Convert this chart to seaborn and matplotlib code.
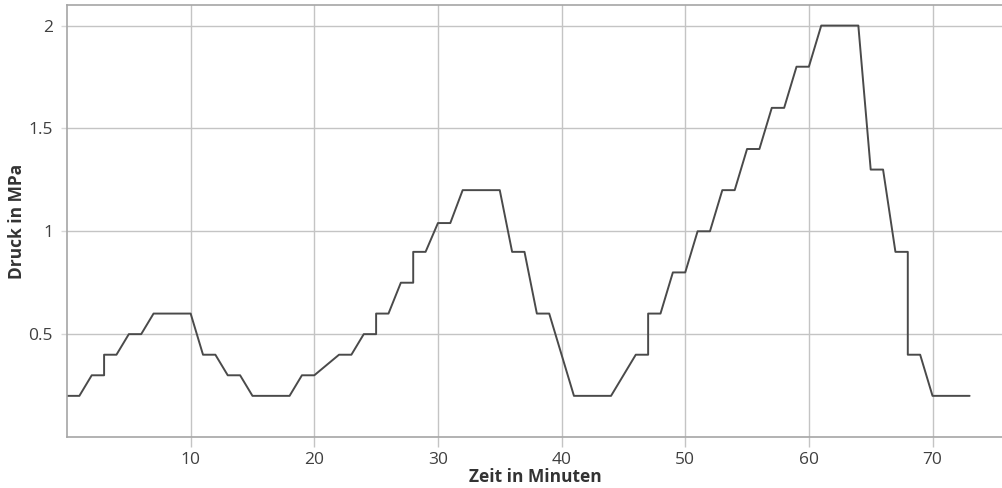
import matplotlib
matplotlib.use("Agg")
import matplotlib.pyplot as plt
import seaborn as sns
import pandas as pd

minutes = [0, 1, 2, 3, 3, 4, 5, 6, 7, 8, 9, 10, 11, 12, 13, 14, 15, 16, 17, 18,
           19, 20, 22, 23, 24, 25, 25, 26, 27, 28, 28, 29, 30, 31, 32, 33, 34, 35,
           36, 37, 38, 39, 41, 42, 43, 44, 46, 47, 47, 48, 49, 50, 51, 52, 53, 54,
           55, 56, 57, 58, 59, 60, 61, 62, 63, 64, 65, 66, 67, 68, 68, 69, 70, 71,
           72, 73]
pressure = [0.2, 0.2, 0.3, 0.3, 0.4, 0.4, 0.5, 0.5, 0.6, 0.6, 0.6, 0.6, 0.4, 0.4,
            0.3, 0.3, 0.2, 0.2, 0.2, 0.2, 0.3, 0.3, 0.4, 0.4, 0.5, 0.5, 0.6, 0.6,
            0.75, 0.75, 0.9, 0.9, 1.04, 1.04, 1.2, 1.2, 1.2, 1.2, 0.9, 0.9, 0.6,
            0.6, 0.2, 0.2, 0.2, 0.2, 0.4, 0.4, 0.6, 0.6, 0.8, 0.8, 1.0, 1.0, 1.2,
            1.2, 1.4, 1.4, 1.6, 1.6, 1.8, 1.8, 2.0, 2.0, 2.0, 2.0, 1.3, 1.3, 0.9,
            0.9, 0.4, 0.4, 0.2, 0.2, 0.2, 0.2]
x_ticks = [10, 20, 30, 40, 50, 60, 70]
y_ticks = [0.5, 1, 1.5, 2]
y_tick_labels = ["0.5", "1", "1.5", "2"]
x_label = "Zeit in Minuten"
y_label = "Druck in MPa"

df = pd.DataFrame({"t": minutes, "p": pressure})

sns.set_style("white")
plt.rcParams["font.family"] = ["Open Sans", "DejaVu Sans"]

fig = plt.figure(figsize=(10.03, 4.88), dpi=100)
ax = fig.add_axes([67 / 1003, 1 - 437 / 488, 1 - 67 / 1003, (437 - 5) / 488])

sns.lineplot(data=df, x="t", y="p", sort=False, estimator=None, ax=ax,
             color="#4a4a4a", linewidth=1.4)

ax.set_xlim(0, 75.7)
ax.set_ylim(0, 2.1)
ax.set_xticks(x_ticks)
ax.set_xticklabels([str(v) for v in x_ticks])
ax.set_yticks(y_ticks)
ax.set_yticklabels(y_tick_labels)

ax.grid(True, color="#c4c4c4", linewidth=1.0)
ax.set_axisbelow(True)

for side in ["left", "bottom", "top"]:
    ax.spines[side].set_visible(True)
    ax.spines[side].set_color("#a6a6a6")
    ax.spines[side].set_linewidth(1.2)
ax.spines["right"].set_visible(False)

ax.tick_params(axis="x", length=7, width=1, color="#c4c4c4", pad=4,
               labelsize=12.5, labelcolor="#404040", bottom=True)
ax.tick_params(axis="y", length=4, width=1, color="#d8d8d8", pad=6,
               labelsize=12.5, labelcolor="#404040", left=True)

ax.set_xlabel(x_label, fontsize=12.5, fontweight="bold", color="#333333", labelpad=0)
ax.set_ylabel(y_label, fontsize=12.5, fontweight="bold", color="#333333", labelpad=2)

fig.savefig("out.png", dpi=100)
